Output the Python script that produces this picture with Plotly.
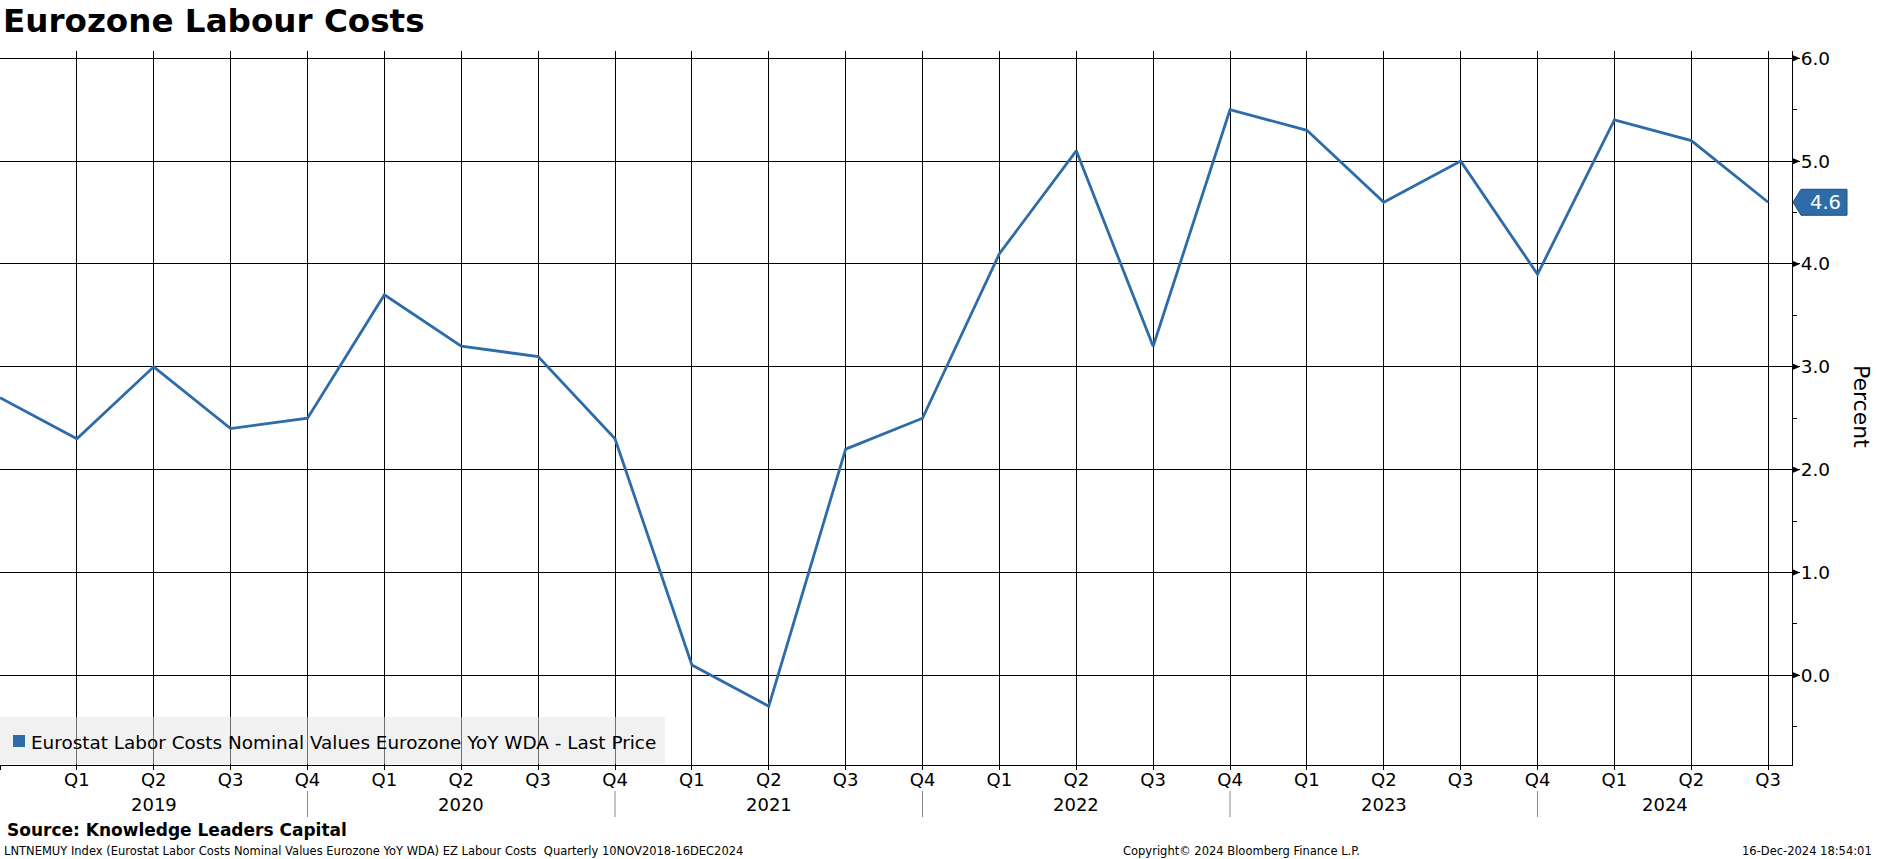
import plotly.graph_objects as go

# ---------------- data ----------------
periods = ["2018Q4", "2019Q1", "2019Q2", "2019Q3", "2019Q4",
           "2020Q1", "2020Q2", "2020Q3", "2020Q4",
           "2021Q1", "2021Q2", "2021Q3", "2021Q4",
           "2022Q1", "2022Q2", "2022Q3", "2022Q4",
           "2023Q1", "2023Q2", "2023Q3", "2023Q4",
           "2024Q1", "2024Q2", "2024Q3"]
values = [2.7, 2.3, 3.0, 2.4, 2.5,
          3.7, 3.2, 3.1, 2.3,
          0.1, -0.3, 2.2, 2.5,
          4.1, 5.1, 3.2, 5.5,
          5.3, 4.6, 5.0, 3.9,
          5.4, 5.2, 4.6]
quarter_labels = [""] + ["Q" + p[-1] for p in periods[1:]]
year_labels = ["2019", "2020", "2021", "2022", "2023", "2024"]
y_ticks = [0, 1, 2, 3, 4, 5, 6]
y_minor = [-0.5, 0.5, 1.5, 2.5, 3.5, 4.5, 5.5]

series_name = "Eurostat Labor Costs Nominal Values Eurozone YoY WDA - Last Price"
title_text = "Eurozone Labour Costs"
source_text = "Source: Knowledge Leaders Capital"
footer_left = ("LNTNEMUY Index (Eurostat Labor Costs Nominal Values Eurozone YoY WDA) "
               "EZ Labour Costs&nbsp;&nbsp;Quarterly 10NOV2018-16DEC2024")
footer_mid = "Copyright\u00a9 2024 Bloomberg Finance L.P."
footer_right = "16-Dec-2024 18:54:01"

# ---------------- style ----------------
W, H = 1877, 859
ML, MR, MT, MB = 0, 85, 51, 94
PW, PH = W - ML - MR, H - MT - MB
X_RANGE = [0, 23.31]
Y_RANGE = [-0.872, 6.071]
LINE = "#2d6ca8"
FONT = "DejaVu Sans"


def py(px):  # pixel row -> paper y
    return (H - MB - px) / PH


def pxx(px):  # pixel column -> paper x
    return (px - ML) / PW


x = list(range(len(values)))

fig = go.Figure()
fig.add_trace(go.Scatter(x=x, y=values, mode="lines", name=series_name,
                         line=dict(color=LINE, width=2.8),
                         showlegend=False, hoverinfo="skip"))

fig.update_layout(
    width=W, height=H, autosize=False,
    margin=dict(l=ML, r=MR, t=MT, b=MB, pad=0),
    paper_bgcolor="white", plot_bgcolor="white",
    font=dict(family=FONT, color="black", size=18),
    showlegend=False,
)

fig.update_xaxes(
    range=X_RANGE, tickmode="array", tickvals=x, ticktext=quarter_labels,
    showgrid=True, gridcolor="black", gridwidth=1,
    ticks="outside", ticklen=4, tickcolor="black", tickwidth=1,
    ticklabelstandoff=-6,
    showline=True, linecolor="black", linewidth=1,
    zeroline=False, tickfont=dict(size=18, family=FONT, color="black"),
    fixedrange=True,
)
fig.update_yaxes(
    side="right", range=Y_RANGE, tickmode="array", tickvals=y_ticks,
    ticktext=[f"{v:.1f}" for v in y_ticks],
    showgrid=True, gridcolor="black", gridwidth=1,
    ticks="outside", ticklen=7, tickcolor="black",
    ticklabelstandoff=-3,
    showline=True, linecolor="black", linewidth=1,
    zeroline=False, tickfont=dict(size=18.5, family=FONT, color="black"),
    minor=dict(tickmode="array", tickvals=y_minor, ticks="outside",
               ticklen=4, tickcolor="black", showgrid=False),
    fixedrange=True,
)

shapes = []
# arrow-head major ticks on the right axis
for v in y_ticks:
    shapes.append(dict(type="path", xref="paper", xsizemode="pixel", xanchor=1,
                       yref="y", ysizemode="pixel", yanchor=v,
                       path="M 0,3.5 L 8,0 L 0,-3.5 Z",
                       fillcolor="black", line=dict(width=0)))

# year separators below Q4 ticks
sep_idx = [i for i, q in enumerate(quarter_labels) if q == "Q4"]
for i in sep_idx:
    shapes.append(dict(type="line", xref="x", x0=i, x1=i, yref="paper",
                       y0=py(791), y1=py(817), line=dict(color="#8a8a8a", width=1)))

# legend box (translucent, gridlines show through)
shapes.append(dict(type="rect", xref="paper", yref="paper", x0=0, x1=pxx(665),
                   y0=py(764), y1=py(717), fillcolor="rgba(228,228,228,0.5)",
                   line=dict(width=0), layer="above"))
shapes.append(dict(type="rect", xref="paper", xsizemode="pixel", xanchor=0,
                   x0=13, x1=25, yref="paper", ysizemode="pixel", yanchor=py(741),
                   y0=-6, y1=6, fillcolor=LINE, line=dict(width=0), layer="above"))

# last value label (pointer box)
last = values[-1]
shapes.append(dict(type="path", xref="paper", xsizemode="pixel", xanchor=1,
                   yref="y", ysizemode="pixel", yanchor=last,
                   path="M 1,0 L 9,13 L 55,13 L 55,-13 L 9,-13 Z",
                   fillcolor=LINE, line=dict(color="#1f4f80", width=1), layer="above"))

annotations = []
annotations.append(dict(xref="paper", yref="y", x=1, y=last, xshift=33,
                        text=f"{last:.1f}", showarrow=False, xanchor="center",
                        yanchor="middle", font=dict(color="white", size=19.5, family=FONT)))

# year labels centred in their spans
bounds = [X_RANGE[0]] + sep_idx + [X_RANGE[1]]
for k, lab in enumerate(year_labels):
    c = (bounds[k] + bounds[k + 1]) / 2
    annotations.append(dict(xref="x", yref="paper", x=c, y=py(804.5), text=lab,
                            showarrow=False, xanchor="center", yanchor="middle",
                            font=dict(size=18, family=FONT)))

annotations += [
    dict(xref="paper", yref="paper", x=pxx(1), y=py(21), text=f"<b>{title_text}</b>",
         showarrow=False, xanchor="left", yanchor="middle",
         font=dict(size=32.6, family=FONT, color="black")),
    dict(xref="paper", yref="paper", x=pxx(29), y=py(742), text=series_name,
         showarrow=False, xanchor="left", yanchor="middle",
         font=dict(size=18.4, family=FONT, color="black")),
    dict(xref="paper", yref="paper", x=1.0, y=py(406), xshift=70, text="Percent",
         textangle=90, showarrow=False, xanchor="center", yanchor="middle",
         font=dict(size=22, family=FONT, color="black")),
    dict(xref="paper", yref="paper", x=pxx(5), y=py(830), text=f"<b>{source_text}</b>",
         showarrow=False, xanchor="left", yanchor="middle",
         font=dict(size=17, family=FONT, color="black")),
    dict(xref="paper", yref="paper", x=pxx(2), y=py(850.5), text=footer_left,
         showarrow=False, xanchor="left", yanchor="middle",
         font=dict(size=11.5, family=FONT, color="black")),
    dict(xref="paper", yref="paper", x=pxx(1241), y=py(850.5), text=footer_mid,
         showarrow=False, xanchor="center", yanchor="middle",
         font=dict(size=11.5, family=FONT, color="black")),
    dict(xref="paper", yref="paper", x=pxx(1874), y=py(850.5), text=footer_right,
         showarrow=False, xanchor="right", yanchor="middle",
         font=dict(size=11.5, family=FONT, color="black")),
]

fig.update_layout(shapes=shapes, annotations=annotations)

fig.write_html("out.html", config={"displayModeBar": False, "staticPlot": True},
               post_script="document.body.style.margin='0';document.body.style.overflow='hidden';")
